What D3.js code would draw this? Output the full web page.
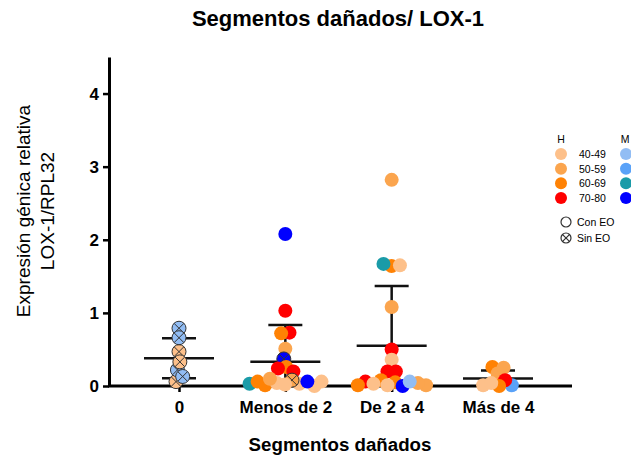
<!DOCTYPE html>
<html>
<head>
<meta charset="utf-8">
<script src="https://cdn.jsdelivr.net/npm/d3@7"></script>
<style>
  body { margin: 0; background: #fff; }
  svg { display: block; font-family: "Liberation Sans", Arial, sans-serif; }
</style>
</head>
<body>
<div id="app"></div>
<script>
const categorias = ["0", "Menos de 2", "De 2 a 4", "Más de 4"];

// Expresión relativa por grupo, con la clase sexo+edad y si es Sin EO (1) o Con EO (0)
const valoresCero = [0.79, 0.47, 0.06, 0.22, 0.66, 0.33, 0.13];
const clasesCero = ["M40", "H40", "H40", "M40", "M40", "H40", "M40"];
const sinEOCero = [1, 1, 1, 1, 1, 1, 1];

const valoresMenos2 = [2.08, 1.03, 0.73, 0.72, 0.51, 0.37, 0.26, 0.24, 0.20, 0.03,
  0.06, 0.00, 0.01, 0.04, 0.03, 0.08, 0.06, 0.06, 0.02, 0.10];
const clasesMenos2 = ["M70", "H70", "H70", "H60", "H50", "M70", "H60", "H70", "H70", "M60",
  "H60", "H40", "H60", "H40", "H40", "H50", "H40", "M70", "H40", "H50"];
const sinEOMenos2 = [0, 0, 0, 0, 0, 1, 0, 0, 0, 0, 0, 0, 0, 0, 0, 1, 0, 0, 0, 0];

const valoresDe2a4 = [2.82, 1.64, 1.67, 1.65, 1.08, 0.50, 0.36, 0.20, 0.20, 0.01,
  0.05, 0.08, 0.00, 0.04, 0.06, 0.01, 0.06, 0.01, 0.03];
const clasesDe2a4 = ["H50", "H60", "M60", "H40", "H50", "H70", "H40", "H70", "H70", "H50",
  "H60", "H60", "M70", "H50", "M40", "H40", "H70", "H60", "H40"];
const sinEODe2a4 = [0, 0, 0, 0, 0, 0, 0, 0, 0, 0, 0, 0, 0, 0, 0, 0, 0, 0, 0];

const valoresMas4 = [0.26, 0.17, 0.25, 0.01, 0.01, 0.08, 0.00, 0.04];
const clasesMas4 = ["H60", "H50", "H50", "H40", "M50", "H70", "H60", "H40"];
const sinEOMas4 = [0, 0, 0, 0, 0, 0, 0, 0];

const yTicks = [0, 1, 2, 3, 4];
const edades = ["40-49", "50-59", "60-69", "70-80"];
const clavesH = ["H40", "H50", "H60", "H70"];
const clavesM = ["M40", "M50", "M60", "M70"];

const colores = {
  H40: "#fdc08a", H50: "#fba54e", H60: "#ff8204", H70: "#ff0000",
  M40: "#92bdf4", M50: "#5aa2f8", M60: "#1a9ba8", M70: "#0000ff"
};

const screen = { width: 631, height: 456 };
const radio = 7;

const series = [
  { valores: valoresCero, clases: clasesCero, sinEO: sinEOCero },
  { valores: valoresMenos2, clases: clasesMenos2, sinEO: sinEOMenos2 },
  { valores: valoresDe2a4, clases: clasesDe2a4, sinEO: sinEODe2a4 },
  { valores: valoresMas4, clases: clasesMas4, sinEO: sinEOMas4 }
];

const x = d3.scalePoint().domain(categorias).range([179, 498]);
const y = d3.scaleLinear().domain([0, 4.5]).range([386, 57]);

const svg = d3.create("svg")
  .attr("width", screen.width)
  .attr("height", screen.height);

// Title
svg.append("text")
  .attr("x", 338).attr("y", 26)
  .attr("text-anchor", "middle")
  .attr("font-size", 22).attr("font-weight", "bold")
  .text("Segmentos dañados/ LOX-1");

// Axes
const yAxis = svg.append("g")
  .attr("transform", `translate(109,0)`)
  .call(d3.axisLeft(y).tickValues(yTicks).tickFormat(d3.format("d")).tickSize(6).tickSizeOuter(0).tickPadding(4));

const xAxis = svg.append("g")
  .attr("transform", `translate(0,${y(0)})`)
  .call(d3.axisBottom(x).tickSize(6).tickSizeOuter(0).tickPadding(9));
xAxis.select(".domain").attr("d", "M108,0H572");

[xAxis, yAxis].forEach((g) => {
  g.select(".domain").attr("stroke", "#000").attr("stroke-width", 3);
  g.selectAll(".tick line").attr("stroke", "#000").attr("stroke-width", 2.5);
  g.selectAll(".tick text")
    .attr("fill", "#000")
    .attr("font-family", "Liberation Sans, Arial, sans-serif")
    .attr("font-weight", "bold")
    .attr("font-size", 17);
});

svg.append("text")
  .attr("x", 340).attr("y", 451)
  .attr("text-anchor", "middle")
  .attr("font-size", 18.7).attr("font-weight", "bold")
  .text("Segmentos dañados");

const yLabel = svg.append("text")
  .attr("transform", "translate(30,211) rotate(-90)")
  .attr("text-anchor", "middle")
  .attr("font-size", 19);
yLabel.append("tspan").attr("x", 0).text("Expresión génica relativa");
yLabel.append("tspan").attr("x", 0).attr("dy", 24).text("LOX-1/RPL32");

// Mean and SD
const plot = svg.append("g");
series.forEach((s, i) => {
  const cx = x(categorias[i]);
  const media = d3.mean(s.valores);
  const sd = d3.deviation(s.valores);
  const alto = media + sd;
  const bajo = Math.max(0, media - sd);
  const g = plot.append("g").attr("stroke", "#111").attr("stroke-width", 2.5);
  g.append("line").attr("x1", cx).attr("x2", cx).attr("y1", y(alto)).attr("y2", y(bajo));
  g.append("line").attr("x1", cx - 17).attr("x2", cx + 17).attr("y1", y(alto)).attr("y2", y(alto));
  if (media - sd > 0) {
    g.append("line").attr("x1", cx - 17).attr("x2", cx + 17).attr("y1", y(bajo)).attr("y2", y(bajo));
  }
  g.append("line").attr("x1", cx - 35).attr("x2", cx + 35).attr("y1", y(media)).attr("y2", y(media));
});

// Beeswarm placement (y fixed to the value, x resolved by collision)
const nodos = [];
series.forEach((s, i) => {
  s.valores.forEach((v, j) => {
    nodos.push({
      cat: categorias[i],
      valor: v,
      clase: s.clases[j],
      sinEO: s.sinEO[j] === 1,
      x: x(categorias[i]),
      y: y(v),
      fy: y(v)
    });
  });
});

d3.forceSimulation(nodos)
  .force("x", d3.forceX((d) => x(d.cat)).strength(0.15))
  .force("collide", d3.forceCollide(4.2).strength(0.7))
  .stop()
  .tick(300);

const punto = plot.append("g")
  .selectAll("g")
  .data(nodos)
  .enter()
  .append("g")
  .attr("transform", (d) => `translate(${d.x},${d.fy})`);

punto.append("circle")
  .attr("r", radio)
  .attr("fill", (d) => colores[d.clase])
  .attr("stroke", (d) => (d.sinEO ? "#333" : "none"))
  .attr("stroke-width", 1);

const k = radio * 0.68;
punto.filter((d) => d.sinEO)
  .append("path")
  .attr("d", `M${-k},${-k}L${k},${k}M${-k},${k}L${k},${-k}`)
  .attr("stroke", "#333")
  .attr("stroke-width", 1);

// Legend
const legend = svg.append("g").attr("font-size", 10.5);
legend.append("text").attr("x", 561).attr("y", 143).attr("text-anchor", "middle").text("H");
legend.append("text").attr("x", 625).attr("y", 143).attr("text-anchor", "middle").text("M");

const fila = d3.scalePoint().domain(edades).range([154, 198]);
edades.forEach((e, i) => {
  legend.append("circle").attr("cx", 561).attr("cy", fila(e)).attr("r", 6).attr("fill", colores[clavesH[i]]);
  legend.append("circle").attr("cx", 626).attr("cy", fila(e)).attr("r", 6).attr("fill", colores[clavesM[i]]);
  legend.append("text").attr("x", 579).attr("y", fila(e) + 4).text(e);
});

legend.append("circle").attr("cx", 566).attr("cy", 222).attr("r", 5)
  .attr("fill", "none").attr("stroke", "#333").attr("stroke-width", 1.2);
legend.append("text").attr("x", 577).attr("y", 226).text("Con EO");
legend.append("circle").attr("cx", 566).attr("cy", 238).attr("r", 5)
  .attr("fill", "none").attr("stroke", "#333").attr("stroke-width", 1.2);
legend.append("path")
  .attr("d", "M562.6,234.6L569.4,241.4M562.6,241.4L569.4,234.6")
  .attr("stroke", "#333").attr("stroke-width", 1.2);
legend.append("text").attr("x", 577).attr("y", 242).text("Sin EO");

document.getElementById("app").append(svg.node());
</script>
</body>
</html>
